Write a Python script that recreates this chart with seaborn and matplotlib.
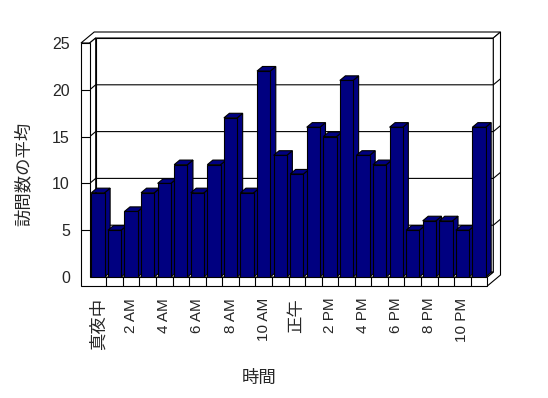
import numpy as np
import pandas as pd
import seaborn as sns
import matplotlib.pyplot as plt
from matplotlib.patches import Polygon
from matplotlib.lines import Line2D
from matplotlib.transforms import IdentityTransform

hours = ["0時", "1時", "2時", "3時", "4時", "5時", "6時", "7時", "8時", "9時", "10時", "11時",
         "12時", "13時", "14時", "15時", "16時", "17時", "18時", "19時", "20時", "21時", "22時", "23時"]
visits = [9, 5, 7, 9, 10, 12, 9, 12, 17, 9, 22, 13, 11, 16, 15, 21, 13, 12, 16, 5, 6, 6, 5, 16]
tick_hours = ["0時", "2時", "4時", "6時", "8時", "10時", "12時", "14時", "16時", "18時", "20時", "22時"]
tick_labels = ["真夜中", "2 AM", "4 AM", "6 AM", "8 AM", "10 AM", "正午", "2 PM", "4 PM", "6 PM", "8 PM", "10 PM"]
y_ticks = [0, 5, 10, 15, 20, 25]

NAVY = "#000080"
LW = 0.8
DEPTH = np.array([6.0, 5.0])   # pixels per unit of depth (oblique projection)
WALL = 8.7                     # left wall thickness, px
FLOOR = 9.0                    # floor thickness, px
BACK = 2.2                     # depth of back face of the back wall
BAR_DEPTH = 0.92

sns.set_style("white")
plt.rcParams["font.family"] = ["Liberation Sans", "Noto Sans CJK JP"]

fig = plt.figure(figsize=(5.48, 3.98), dpi=100)
ax = fig.add_axes([89.7 / 548, 121 / 398, 397.6 / 548, 234 / 398])

df = pd.DataFrame({"hour": hours, "visits": visits})
sns.barplot(data=df, x="hour", y="visits", color=NAVY, saturation=1, width=0.8,
            edgecolor="black", linewidth=LW, ax=ax)

ax.set_xlim(-0.5, len(hours) - 0.5)
ax.set_ylim(0, 25)
ax.patch.set_visible(False)
for s in ax.spines.values():
    s.set_visible(False)

x0, x1 = ax.get_xlim()
ytop = ax.get_ylim()[1]


def P(x, y, z=0.0, dx=0.0, dy=0.0):
    return ax.transData.transform((x, y)) + z * DEPTH + np.array([dx, dy])


def face(pts, fc="white", z=1):
    ax.add_patch(Polygon(np.array(pts), closed=True, facecolor=fc, edgecolor="black",
                         linewidth=LW, transform=IdentityTransform(), clip_on=False, zorder=z))


def line(pts, z=1.5):
    pts = np.array(pts)
    ax.add_line(Line2D(pts[:, 0], pts[:, 1], color="black", linewidth=LW,
                       transform=IdentityTransform(), clip_on=False, zorder=z))


# back wall inner face and its top/right edges
face([P(x0, 0, 1), P(x1, 0, 1), P(x1, ytop, 1), P(x0, ytop, 1)], z=1)
face([P(x0, ytop, 0, dx=-WALL), P(x0, ytop, 0), P(x0, ytop, 1), P(x1, ytop, 1),
      P(x1, ytop, BACK), P(x0, ytop, BACK, dx=-WALL)], z=1)
face([P(x1, ytop, 1), P(x1, ytop, BACK), P(x1, 0, BACK, dy=-FLOOR), P(x1, 0, 0, dy=-FLOOR),
      P(x1, 0, 0), P(x1, 0, 1)], z=1)
# left wall inner face
face([P(x0, 0, 0), P(x0, 0, 1), P(x0, ytop, 1), P(x0, ytop, 0)], z=1)

# gridlines running over left wall, back wall and its right edge
for v in y_ticks[1:-1]:
    line([P(x0, v, 0), P(x0, v, 1), P(x1, v, 1), P(x1, v, BACK)], z=1.2)

# floor top
face([P(x0, 0, 0), P(x1, 0, 0), P(x1, 0, 1), P(x0, 0, 1)], z=1.3)

# left wall front + floor front (one L-shaped plate)
face([P(x0, ytop, 0, dx=-WALL), P(x0, ytop, 0), P(x0, 0, 0), P(x1, 0, 0),
      P(x1, 0, 0, dy=-FLOOR), P(x0, 0, 0, dx=-WALL, dy=-FLOOR)], z=1.4)
for v in y_ticks[1:-1]:
    line([P(x0, v, 0, dx=-WALL), P(x0, v, 0)], z=1.5)
for k in range(1, len(hours)):
    line([P(k - 0.5, 0, 0), P(k - 0.5, 0, 0, dy=-FLOOR)], z=1.5)

# 3D sides and caps of the bars, drawn left to right
for i, p in enumerate(ax.patches[:len(hours)]):
    bx0, bx1, h = p.get_x(), p.get_x() + p.get_width(), p.get_height()
    zo = 10 + i * 0.01
    face([P(bx1, 0, 0), P(bx1, h, 0), P(bx1, h, BAR_DEPTH), P(bx1, 0, BAR_DEPTH)], fc=NAVY, z=zo)
    face([P(bx0, h, 0), P(bx1, h, 0), P(bx1, h, BAR_DEPTH), P(bx0, h, BAR_DEPTH)], fc=NAVY, z=zo)
    p.set_zorder(zo + 0.005)

ax.set_yticks(y_ticks)
ax.set_yticklabels([str(v) for v in y_ticks], fontsize=11.5)
ax.set_xticks([hours.index(h) for h in tick_hours])
ax.set_xticklabels(tick_labels, rotation=90)
for t in ax.get_xticklabels():
    t.set_fontsize(12.5 if t.get_text() in ("真夜中", "正午") else 11)
ax.tick_params(axis="y", length=0, pad=14.2)
ax.tick_params(axis="x", length=0, pad=15)

ax.set_xlabel("時間", fontsize=12.5)
ax.set_ylabel("訪問数の平均", fontsize=12.5)
ax.xaxis.set_label_coords((259 - 89.7) / 397.6, (277 - 378) / 234)
ax.xaxis.label.set_va("center")
ax.yaxis.set_label_coords((23 - 89.7) / 397.6, (277 - 174) / 234)
ax.yaxis.label.set_va("center")

fig.savefig("out.png", dpi=100)
